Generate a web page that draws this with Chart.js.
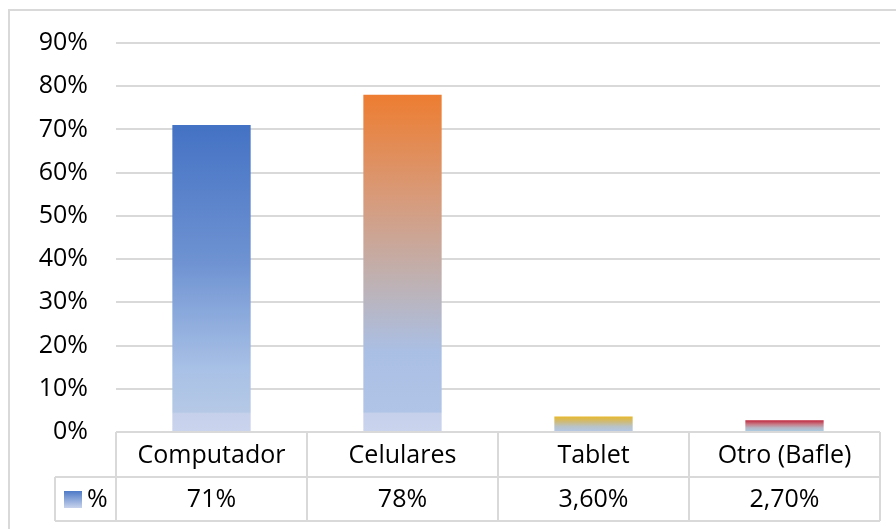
<!DOCTYPE html>
<html>
<head>
<meta charset="utf-8">
<script src="https://cdn.jsdelivr.net/npm/chart.js@4"></script>
<style>
  html, body { margin: 0; padding: 0; background: #fff; }
  #wrap { width: 896px; height: 529px; position: relative; }
</style>
</head>
<body>
<div id="wrap"><canvas id="chart" width="896" height="529"></canvas></div>
<script>
/* ========= DATA ========= */
const categories = ["Computador", "Celulares", "Tablet", "Otro (Bafle)"];
const values = [0.71, 0.78, 0.036, 0.027];
const tableLabels = ["71%", "78%", "3,60%", "2,70%"];
const seriesName = "%";
const yTicks = [0, 0.1, 0.2, 0.3, 0.4, 0.5, 0.6, 0.7, 0.8, 0.9];

/* ========= STYLE ========= */
const FONT = "'Open Sans', sans-serif";
const LINE = "#D9D9D9";
const gradStops = [
  [[0, "#4472C4"], [0.45, "#6F93D2"], [0.8, "#A9C1E6"], [0.935, "#B5C9E6"], [0.94, "#C6D0EB"], [1, "#CAD4ED"]],
  [[0, "#ED7D31"], [0.3, "#D89A79"], [0.55, "#BFB1B2"], [0.76, "#AABFE4"], [0.94, "#AFC4E6"], [0.945, "#C6D0EB"], [1, "#CAD4ED"]],
  [[0, "#E8B82C"], [0.35, "#CDBB7C"], [0.65, "#B8C3C8"], [1, "#B3C8EA"]],
  [[0, "#C0283E"], [0.35, "#C67D89"], [0.65, "#B5B7C6"], [1, "#A7D0E8"]]
];

function barGradient(ctx) {
  const chart = ctx.chart;
  const i = ctx.dataIndex;
  const y = chart.scales.y;
  if (!chart.chartArea || !y || i === undefined) return gradStops[i || 0][0][1];
  const top = y.getPixelForValue(values[i]);
  const base = y.getPixelForValue(0);
  const g = chart.ctx.createLinearGradient(0, top, 0, base);
  gradStops[i].forEach(s => g.addColorStop(s[0], s[1]));
  return g;
}

/* ========= DATA TABLE + FRAME ========= */
const tablePlugin = {
  id: "dataTable",
  afterDraw(chart) {
    const c = chart.ctx;
    const x = chart.scales.x;
    const area = chart.chartArea;
    const step = x.width / categories.length;
    const top = area.bottom;
    const mid = top + 45;
    const bot = top + 89;
    const legL = 55;

    c.save();
    // outer frame (right/bottom fall outside the picture)
    c.strokeStyle = LINE;
    c.lineWidth = 2;
    c.strokeRect(9, 10, 900, 540);

    // table lines
    c.beginPath();
    c.moveTo(area.left, top); c.lineTo(area.right, top);
    c.moveTo(legL, mid); c.lineTo(area.right, mid);
    c.moveTo(legL, bot); c.lineTo(area.right, bot);
    c.moveTo(legL, mid); c.lineTo(legL, bot);
    for (let i = 0; i <= categories.length; i++) {
      const px = Math.round(area.left + i * step);
      c.moveTo(px, top); c.lineTo(px, bot);
    }
    c.stroke();

    // texts
    c.fillStyle = "#000";
    c.font = "25px " + FONT;
    c.textAlign = "center";
    c.textBaseline = "middle";
    categories.forEach((cat, i) => {
      const cx = x.getPixelForValue(i);
      c.fillText(cat, cx, (top + mid) / 2 + 1);
      c.fillText(tableLabels[i], cx, (mid + bot) / 2 + 1);
    });

    // legend key
    const g = c.createLinearGradient(0, 491, 0, 508);
    g.addColorStop(0, "#4E7AC7");
    g.addColorStop(1, "#C8D3EC");
    c.fillStyle = g;
    c.fillRect(64, 491, 18, 17);
    c.fillStyle = "#000";
    c.textAlign = "left";
    c.fillText(seriesName, 87, (mid + bot) / 2 + 1);
    c.restore();
  }
};

/* ========= CHART ========= */
new Chart(document.getElementById("chart"), {
  type: "bar",
  data: {
    labels: categories,
    datasets: [{
      label: seriesName,
      data: values,
      backgroundColor: barGradient,
      barPercentage: 0.41,
      categoryPercentage: 1
    }]
  },
  options: {
    responsive: false,
    animation: false,
    layout: { padding: { top: 41, right: 16, bottom: 97, left: 0 } },
    plugins: { legend: { display: false }, tooltip: { enabled: false } },
    scales: {
      x: { display: false },
      y: {
        min: 0,
        max: 0.9,
        afterFit(s) { s.width = 116; },
        afterBuildTicks(s) { s.ticks = yTicks.map(v => ({ value: v })); },
        border: { display: false },
        grid: { color: LINE, lineWidth: 2, drawTicks: false },
        ticks: {
          padding: 28,
          color: "#000",
          font: { family: FONT, size: 25 },
          callback: v => Math.round(v * 100) + "%"
        }
      }
    }
  },
  plugins: [tablePlugin]
});
</script>
</body>
</html>
